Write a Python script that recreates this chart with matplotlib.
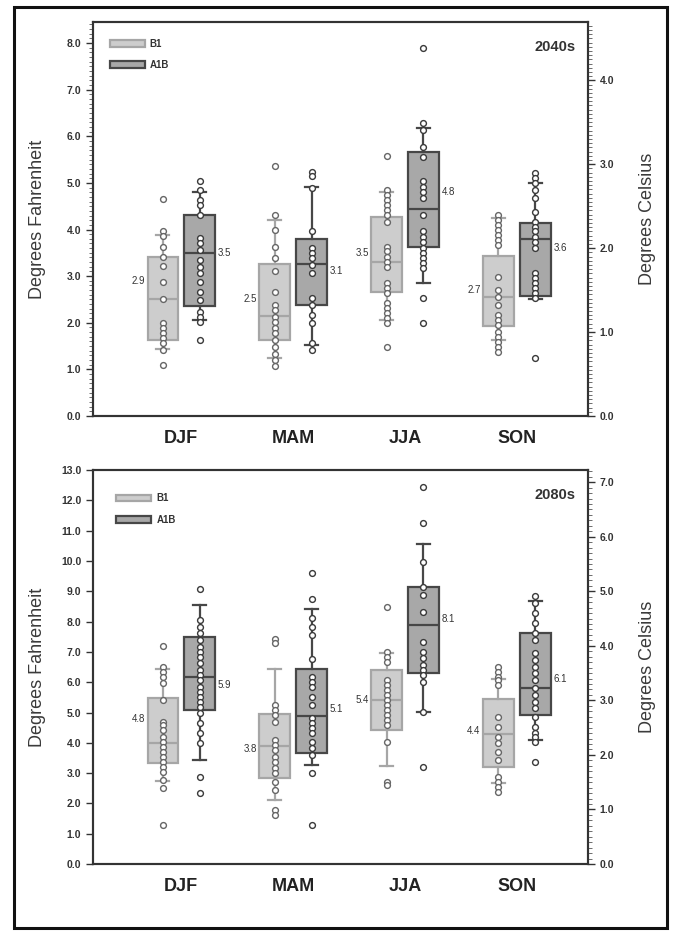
import numpy as np
import matplotlib
matplotlib.use("Agg")
import matplotlib.pyplot as plt
from matplotlib.patches import Patch, Rectangle
from matplotlib.ticker import MultipleLocator, FormatStrFormatter

plt.rcParams['font.family'] = ['Liberation Sans', 'DejaVu Sans']

seasons = ["DJF", "MAM", "JJA", "SON"]

# ---- 2040s, values in degrees F ----
pts_2040_b1 = [
    [4.65, 3.97, 3.86, 3.63, 3.42, 3.22, 2.88, 2.52, 1.99, 1.88, 1.77, 1.67, 1.56, 1.42, 1.09],
    [5.37, 4.31, 3.99, 3.63, 3.38, 3.10, 2.67, 2.38, 2.27, 2.13, 2.02, 1.88, 1.77, 1.63, 1.49, 1.34, 1.20, 1.08],
    [5.57, 4.85, 4.74, 4.64, 4.53, 4.42, 4.31, 4.17, 3.63, 3.53, 3.42, 3.31, 3.20, 2.85, 2.74, 2.63, 2.42, 2.31, 2.20, 2.10, 1.99, 1.49],
    [4.31, 4.21, 4.10, 3.99, 3.88, 3.78, 3.67, 2.99, 2.70, 2.56, 2.38, 2.17, 2.06, 1.95, 1.81, 1.70, 1.59, 1.49, 1.38],
]
pts_2040_a1b = [
    [5.03, 4.85, 4.64, 4.53, 4.31, 3.81, 3.71, 3.56, 3.35, 3.20, 3.06, 2.88, 2.67, 2.49, 2.24, 2.13, 2.02, 1.63],
    [5.24, 5.14, 4.89, 3.96, 3.60, 3.49, 3.38, 3.24, 3.06, 2.53, 2.38, 2.17, 1.99, 1.56, 1.42],
    [7.89, 6.28, 6.14, 5.78, 5.56, 5.03, 4.92, 4.81, 4.67, 4.31, 3.96, 3.85, 3.74, 3.60, 3.49, 3.38, 3.28, 3.17, 2.53, 1.99],
    [5.21, 5.10, 4.99, 4.85, 4.67, 4.38, 4.17, 4.06, 3.96, 3.85, 3.74, 3.60, 3.06, 2.95, 2.85, 2.74, 2.63, 2.53, 1.24],
]
# box stats: lower whisker, q1, median, q3, upper whisker
box_2040_b1 = [
    [1.44, 1.63, 2.52, 3.42, 3.88],
    [1.24, 1.63, 2.15, 3.26, 4.20],
    [2.05, 2.66, 3.30, 4.26, 4.80],
    [1.63, 1.93, 2.55, 3.43, 4.24],
]
box_2040_a1b = [
    [2.06, 2.35, 3.49, 4.31, 4.81],
    [1.52, 2.38, 3.26, 3.79, 4.91],
    [2.85, 3.63, 4.43, 5.67, 6.17],
    [2.50, 2.58, 3.79, 4.15, 4.99],
]
mean_2040_b1 = [2.9, 2.5, 3.5, 2.7]
mean_2040_a1b = [3.5, 3.1, 4.8, 3.6]

# ---- 2080s, values in degrees F ----
pts_2080_b1 = [
    [7.19, 6.51, 6.35, 6.18, 5.96, 5.41, 4.70, 4.59, 4.42, 4.20, 4.04, 3.87, 3.71, 3.54, 3.38, 3.21, 3.05, 2.77, 2.50, 1.29],
    [7.41, 7.28, 5.25, 5.08, 4.92, 4.70, 4.09, 3.93, 3.76, 3.54, 3.38, 3.16, 2.99, 2.72, 2.44, 1.78, 1.62],
    [8.49, 7.01, 6.84, 6.68, 6.07, 5.91, 5.74, 5.58, 5.41, 5.25, 5.08, 4.92, 4.75, 4.59, 4.04, 2.72, 2.61],
    [6.51, 6.35, 6.18, 6.07, 5.91, 4.86, 4.53, 4.20, 3.98, 3.71, 3.43, 2.88, 2.72, 2.55, 2.39],
]
pts_2080_a1b = [
    [9.07, 8.05, 7.83, 7.61, 7.39, 7.17, 7.01, 6.84, 6.62, 6.40, 6.24, 6.07, 5.85, 5.69, 5.52, 5.36, 5.19, 4.97, 4.64, 4.31, 3.98, 2.88, 2.33],
    [9.59, 8.74, 8.11, 7.83, 7.56, 6.76, 6.18, 6.02, 5.85, 5.52, 5.25, 4.81, 4.64, 4.48, 4.31, 4.04, 3.82, 3.60, 2.99, 1.29],
    [12.45, 11.24, 9.98, 9.15, 8.88, 8.33, 7.34, 7.01, 6.79, 6.57, 6.40, 6.24, 6.02, 5.03, 3.21],
    [8.84, 8.60, 8.27, 7.94, 7.61, 7.39, 6.95, 6.73, 6.51, 6.29, 6.07, 5.80, 5.58, 5.36, 5.14, 4.86, 4.53, 4.31, 4.20, 4.04, 3.38],
]
box_2080_b1 = [
    [2.75, 3.32, 4.00, 5.47, 6.43],
    [2.11, 2.83, 3.89, 4.95, 6.45],
    [3.23, 4.42, 5.40, 6.40, 6.95],
    [2.66, 3.21, 4.30, 5.46, 6.12],
]
box_2080_a1b = [
    [3.43, 5.08, 6.18, 7.50, 8.55],
    [3.27, 3.67, 4.88, 6.45, 8.40],
    [5.03, 6.29, 7.89, 9.15, 10.56],
    [4.09, 4.92, 5.80, 7.61, 8.69],
]
mean_2080_b1 = [4.8, 3.8, 5.4, 4.4]
mean_2080_a1b = [5.9, 5.1, 8.1, 6.1]

B1_FACE, B1_EDGE = '#cdcdcd', '#a6a6a6'
A1B_FACE, A1B_EDGE = '#a8a8a8', '#474747'


def make_stats(boxes):
    return [dict(whislo=b[0], q1=b[1], med=b[2], q3=b[3], whishi=b[4], fliers=[]) for b in boxes]


def draw_scenario(ax, x, boxes, pts, face, edge, ptedge):
    lw = 1.6
    ax.bxp(make_stats(boxes), positions=x, widths=0.27, capwidths=0.12,
           showfliers=False, patch_artist=True,
           boxprops=dict(facecolor=face, edgecolor=edge, linewidth=lw),
           medianprops=dict(color=edge, linewidth=lw),
           whiskerprops=dict(color=edge, linewidth=lw),
           capprops=dict(color=edge, linewidth=lw))
    for xi, p in zip(x, pts):
        ax.plot(np.full(len(p), xi), p, 'o', ms=4.2, mfc='white', mec=ptedge,
                mew=1.0, zorder=4, ls='none')


def style_ticks(axis_obj):
    axis_obj.tick_params(axis='y', which='major', length=5, width=1, labelsize=7.5,
                         colors='#333333')
    axis_obj.tick_params(axis='y', which='minor', length=3, width=0.6, colors='#555555')
    for lab in axis_obj.get_yticklabels():
        lab.set_fontweight('bold')
    for s in axis_obj.spines.values():
        s.set_linewidth(1.5)
        s.set_color('#333333')


def draw_panel(ax, pts_b1, pts_a1b, box_b1, box_a1b, mean_b1, mean_a1b,
               ymax, period, minor_f, minor_c, cmax_ticks, leg_pad):
    pos = np.arange(1, 5)
    off = 0.165
    draw_scenario(ax, pos - off, box_b1, pts_b1, B1_FACE, B1_EDGE, '#666666')
    draw_scenario(ax, pos + off, box_a1b, pts_a1b, A1B_FACE, A1B_EDGE, '#3a3a3a')

    for i in range(4):
        ax.text(pos[i] - off - 0.16, mean_b1[i], f"{mean_b1[i]:.1f}", ha='right',
                va='center', fontsize=7, color='#333333')
        ax.text(pos[i] + off + 0.16, mean_a1b[i], f"{mean_a1b[i]:.1f}", ha='left',
                va='center', fontsize=7, color='#333333')

    ax.set_xlim(0.214, 4.634)
    ax.set_ylim(0, ymax)
    ax.set_xticks(pos)
    ax.set_xticklabels(seasons, fontsize=13, fontweight='bold', color='#222222')
    ax.tick_params(axis='x', length=0, pad=10)
    ax.yaxis.set_major_locator(MultipleLocator(1.0))
    ax.yaxis.set_major_formatter(FormatStrFormatter('%.1f'))
    if minor_f:
        ax.yaxis.set_minor_locator(MultipleLocator(minor_f))
    style_ticks(ax)
    ax.set_ylabel("Degrees Fahrenheit", fontsize=13, color='#3a3a3a')
    ax.yaxis.set_label_coords(-0.095, 0.5)

    ax2 = ax.twinx()
    ax2.set_ylim(0, ymax / 1.8)
    ax2.set_yticks(np.arange(0, cmax_ticks + 0.01, 1.0))
    ax2.yaxis.set_major_formatter(FormatStrFormatter('%.1f'))
    ax2.yaxis.set_minor_locator(MultipleLocator(minor_c))
    style_ticks(ax2)
    ax2.set_ylabel("Degrees Celsius", fontsize=13, color='#3a3a3a')
    ax2.yaxis.set_label_coords(1.104, 0.5)

    ax.text(0.975, 0.955, period, transform=ax.transAxes, ha='right', va='top',
            fontsize=10.5, fontweight='bold', color='#333333')

    handles = [Patch(facecolor=B1_FACE, edgecolor=B1_EDGE, linewidth=1.6, label='B1'),
               Patch(facecolor=A1B_FACE, edgecolor=A1B_EDGE, linewidth=1.6, label='A1B')]
    leg = ax.legend(handles=handles, loc='upper left', frameon=False, fontsize=7,
                    handlelength=3.6, handleheight=0.7, labelspacing=1.2,
                    handletextpad=0.5, borderaxespad=leg_pad)
    for t in leg.get_texts():
        t.set_color('#333333')
        t.set_fontweight('bold')


fig = plt.figure(figsize=(6.75, 9.34), dpi=100)
fig.patch.set_facecolor('white')

ax_top = fig.add_axes([0.138, 0.5546, 0.733, 0.4218])
draw_panel(ax_top, pts_2040_b1, pts_2040_a1b, box_2040_b1, box_2040_a1b,
           mean_2040_b1, mean_2040_a1b, 8.45, "2040s", 0.1, 0.05, 4.0, 1.3)

ax_bot = fig.add_axes([0.138, 0.0749, 0.733, 0.4218])
draw_panel(ax_bot, pts_2080_b1, pts_2080_a1b, box_2080_b1, box_2080_a1b,
           mean_2080_b1, mean_2080_a1b, 13.0, "2080s", None, 0.1, 7.0, 2.0)

# outer frame round the whole figure
fig.patches.append(Rectangle((0.0207, 0.0064), 0.967, 0.986, transform=fig.transFigure,
                             fill=False, edgecolor='#111111', linewidth=2.2))

fig.savefig("out.png", dpi=100)
